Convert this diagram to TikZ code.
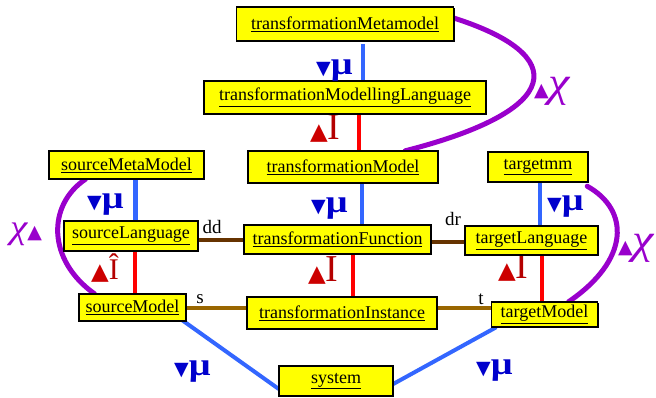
\documentclass[tikz,border=0pt]{standalone}
\usepackage{fontspec}
\setmainfont{Liberation Serif}
\newfontfamily\symfont{DejaVu Sans}
\usetikzlibrary{shadows}
\definecolor{boxyellow}{RGB}{255,255,0}
\definecolor{lineblue}{RGB}{51,102,255}
\definecolor{mublue}{RGB}{0,0,204}
\definecolor{linered}{RGB}{255,0,0}
\definecolor{labred}{RGB}{204,0,0}
\definecolor{idark}{RGB}{180,0,0}
\definecolor{purp}{RGB}{153,0,204}
\definecolor{darkbrown}{RGB}{102,51,0}
\definecolor{lightbrown}{RGB}{153,102,0}
\newcommand\DnTri{{\symfont\fontsize{19}{19}\selectfont ▼}}
\newcommand\UpTri{{\symfont\fontsize{23}{23}\selectfont ▲}}
\newcommand\SmTri{{\symfont\fontsize{19}{19}\selectfont ▲}}
\newcommand\MuGl{\scalebox{1.2}[1]{\fontsize{32}{32}\selectfont\bfseries μ}}
\newcommand\ChiGl[1]{\scalebox{1.15}[1]{\fontsize{#1}{#1}\selectfont\itshape χ}}
\newcommand\IGl{{\fontsize{38}{38}\selectfont I}}
\begin{document}
\begin{tikzpicture}[x=1pt,y=-1pt,
  box/.style={draw=black,line width=1.3pt,fill=boxyellow,inner sep=0pt,
    font=\fontsize{18}{20}\selectfont,
    drop shadow={shadow xshift=1.2pt,shadow yshift=-1.2pt,fill=black,opacity=1}},
  lab/.style={inner sep=0pt,anchor=base west},
  txt/.style={inner sep=0pt,font=\fontsize{19}{21}\selectfont},
  blueline/.style={draw=lineblue,line width=4.5pt},
  redline/.style={draw=linered,line width=4pt},
  ddline/.style={draw=darkbrown,line width=4pt},
  stline/.style={draw=lightbrown,line width=4pt},
  chiline/.style={draw=purp,line width=5pt,line cap=round}]
\useasboundingbox (0,0) rectangle (656,397);

\path
  (345,24)    coordinate (ptmm)
  (345,97.5)  coordinate (ptml)
  (343,167)   coordinate (ptm)
  (126.5,165) coordinate (psmm)
  (538,167)   coordinate (ptgmm)
  (131,236)   coordinate (psl)
  (337.5,239.5) coordinate (ptf)
  (531.5,240.5) coordinate (ptl)
  (132.5,307.5) coordinate (psm)
  (342,313)   coordinate (pti)
  (544.5,314.5) coordinate (ptgm)
  (336,381)   coordinate (psys);

\begin{scope}[every node/.style={inner sep=0pt,draw=none}]
\node[minimum width=217pt,minimum height=34pt] (tmm) at (ptmm) {};
\node[minimum width=282pt,minimum height=33pt] (tml) at (ptml) {};
\node[minimum width=190pt,minimum height=32pt] (tm) at (ptm) {};
\node[minimum width=155pt,minimum height=28pt] (smm) at (psmm) {};
\node[minimum width=100pt,minimum height=30pt] (tgmm) at (ptgmm) {};
\node[minimum width=134pt,minimum height=30pt] (sl) at (psl) {};
\node[minimum width=187pt,minimum height=29pt] (tf) at (ptf) {};
\node[minimum width=133pt,minimum height=29pt] (tl) at (ptl) {};
\node[minimum width=107pt,minimum height=27pt] (sm) at (psm) {};
\node[minimum width=190pt,minimum height=32pt] (ti) at (pti) {};
\node[minimum width=106pt,minimum height=25pt] (tgm) at (ptgm) {};
\node[minimum width=114pt,minimum height=30pt] (sys) at (psys) {};
\end{scope}

% connectors
\draw[blueline] ([xshift=18pt,yshift=-3pt]tmm.south) -- ([xshift=18pt]tmm.south |- tml.north);
\draw[redline] ([xshift=14pt]tml.south) -- ([xshift=14pt]tml.south |- tm.north);
\draw[blueline] ([xshift=19pt]tm.south) -- ([xshift=19pt]tm.south |- tf.north);
\draw[redline] ([xshift=15pt]tf.south) -- ([xshift=15pt]tf.south |- ti.north);
\draw[blueline] ([xshift=9pt]smm.south) -- ([xshift=9pt]smm.south |- sl.north);
\draw[redline] ([xshift=4pt]sl.south) -- ([xshift=4pt]sl.south |- sm.north);
\draw[blueline] ([xshift=2pt]tgmm.south) -- ([xshift=2pt]tgmm.south |- tl.north);
\draw[redline] ([xshift=10pt]tl.south) -- ([xshift=10pt]tl.south |- tgm.north);

\draw[ddline] (sl.east |- tf.west) -- (tf.west);
\draw[ddline] ([yshift=-2pt]tf.east) -- ([yshift=-2pt]tf.east -| tl.west);
\draw[stline] (sm.east) -- (sm.east -| ti.west);
\draw[stline] (ti.east |- sm.east) -- (tgm.west |- sm.east);

\draw[blueline,line width=4pt] ([xshift=-4pt,yshift=1pt]sm.south east) -- ([yshift=-8pt]sys.west);
\draw[blueline,line width=4pt] ([yshift=-3pt]sys.east) -- ([xshift=5pt]tgm.south west);

\draw[chiline] ([yshift=6pt]tmm.east) .. controls (570,55) and (565,110) .. ([xshift=-33pt]tm.north east);
\draw[chiline] ([xshift=-41pt]smm.south) .. controls (47,205) and (47,260) .. ([xshift=-38pt]sm.north);
\draw[chiline] ([xshift=-1pt,yshift=-4pt]tgmm.south east) .. controls (630,210) and (630,260) .. ([xshift=24pt]tgm.north);

% labels behind boxes
\node[lab] (i1) at (310,139) {\textcolor{labred}{\UpTri}\textcolor{idark}{\IGl}};
\node[lab] (i2) at (308,281) {\textcolor{labred}{\UpTri}\textcolor{idark}{\IGl}};
\node[lab] (i3) at (498,278) {\textcolor{labred}{\UpTri}\textcolor{idark}{\IGl}};

% boxes
\node[box,minimum width=217pt,minimum height=34pt] (btmm) at (ptmm) {\underline{transformationMetamodel}};
\node[box,minimum width=282pt,minimum height=33pt] (btml) at (ptml) {\underline{transformationModellingLanguage}};
\node[box,minimum width=190pt,minimum height=32pt] (btm) at (ptm) {\underline{transformationModel}};
\node[box,minimum width=155pt,minimum height=28pt] (bsmm) at (psmm) {\underline{sourceMetaModel}};
\node[box,minimum width=100pt,minimum height=30pt] (btgmm) at (ptgmm) {\underline{targetmm}};
\node[box,minimum width=134pt,minimum height=30pt] (bsl) at (psl) {\underline{sourceLanguage}};
\node[box,minimum width=187pt,minimum height=29pt] (btf) at (ptf) {\underline{transformationFunction}};
\node[box,minimum width=133pt,minimum height=29pt] (btl) at (ptl) {\underline{targetLanguage}};
\node[box,minimum width=107pt,minimum height=27pt] (bsm) at (psm) {\underline{sourceModel}};
\node[box,minimum width=190pt,minimum height=32pt] (bti) at (pti) {\underline{transformationInstance}};
\node[box,minimum width=106pt,minimum height=25pt] (btgm) at (ptgm) {\underline{targetModel}};
\node[box,minimum width=114pt,minimum height=30pt] (bsys) at (psys) {\underline{system}};

% labels in front
\node[lab] (i4) at (91,279) {\textcolor{labred}{\UpTri}\textcolor{idark}{{\fontsize{30}{30}\selectfont Î}}};

\node[lab,text=mublue] (m1) at (316,74) {\DnTri\MuGl};
\node[lab,text=mublue] (m2) at (311,212) {\DnTri\MuGl};
\node[lab,text=mublue] (m3) at (87,208) {\DnTri\MuGl};
\node[lab,text=mublue] (m4) at (547,210) {\DnTri\MuGl};
\node[lab,text=mublue] (m5) at (174,375) {\DnTri\MuGl};
\node[lab,text=mublue] (m6) at (476,374) {\DnTri\MuGl};

\node[lab,text=purp] (c1) at (534,96) {\SmTri\ChiGl{42}};
\node[lab,text=purp] (c2) at (10,238) {\ChiGl{34}\SmTri};
\node[lab,text=purp] (c3) at (618,253) {\SmTri\ChiGl{42}};

\node[txt] (ldd) at (212,227) {dd};
\node[txt] (ldr) at (453,219) {dr};
\node[txt] (ls) at (200,299) {s};
\node[txt] (lt) at (481,299) {t};
\end{tikzpicture}
\end{document}
